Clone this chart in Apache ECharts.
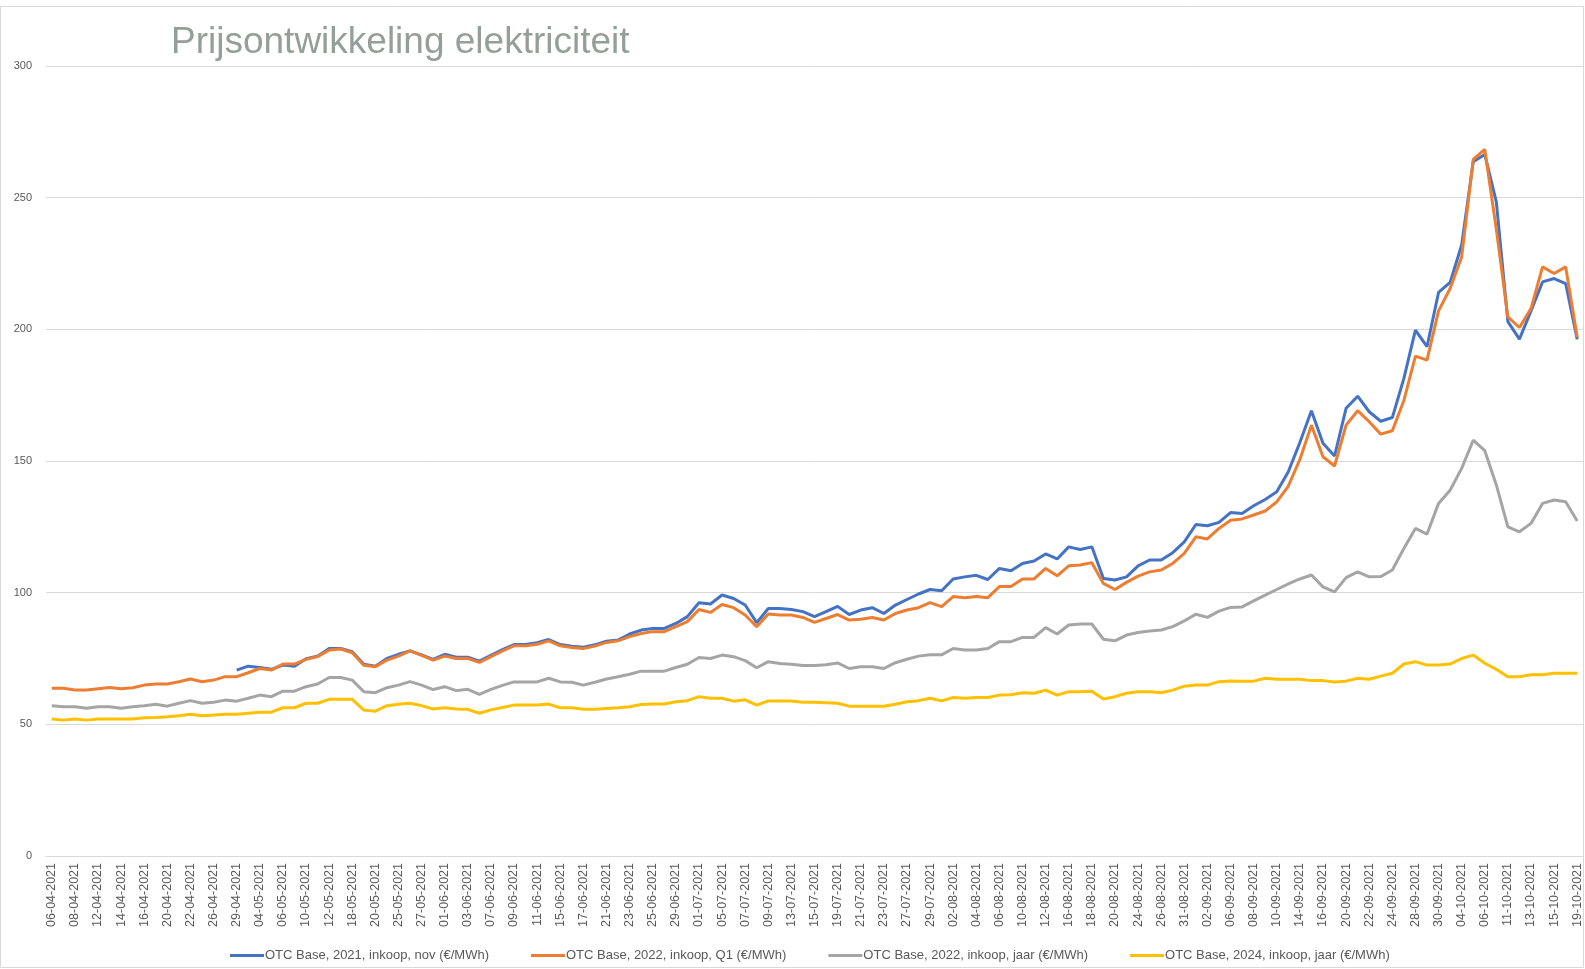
<!DOCTYPE html>
<html>
<head>
<meta charset="utf-8">
<script src="https://cdn.jsdelivr.net/npm/echarts@6/dist/echarts.min.js"></script>
<style>
  html, body { margin: 0; padding: 0; background: #fff; }
  #main { width: 1585px; height: 969px; }
</style>
</head>
<body>
<div id="main"></div>
<script>
// handelsdagen (dd-mm), jaar 2021
const days = [
  '06-04','07-04','08-04','09-04','12-04','13-04','14-04','15-04','16-04','19-04',
  '20-04','21-04','22-04','23-04','26-04','28-04','29-04','30-04','04-05','05-05',
  '06-05','07-05','10-05','11-05','12-05','14-05','18-05','19-05','20-05','21-05',
  '25-05','26-05','27-05','28-05','01-06','02-06','03-06','04-06','07-06','08-06',
  '09-06','10-06','11-06','14-06','15-06','16-06','17-06','18-06','21-06','22-06',
  '23-06','24-06','25-06','28-06','29-06','30-06','01-07','02-07','05-07','06-07',
  '07-07','08-07','09-07','12-07','13-07','14-07','15-07','16-07','19-07','20-07',
  '21-07','22-07','23-07','26-07','27-07','28-07','29-07','30-07','02-08','03-08',
  '04-08','05-08','06-08','09-08','10-08','11-08','12-08','13-08','16-08','17-08',
  '18-08','19-08','20-08','23-08','24-08','25-08','26-08','27-08','31-08','01-09',
  '02-09','03-09','06-09','07-09','08-09','09-09','10-09','13-09','14-09','15-09',
  '16-09','17-09','20-09','21-09','22-09','23-09','24-09','27-09','28-09','29-09',
  '30-09','01-10','04-10','05-10','06-10','07-10','11-10','12-10','13-10','14-10',
  '15-10','18-10','19-10'
]
const dates = days.map(d => d + '-2021')

const seriesNames = [
  'OTC Base, 2021, inkoop, nov (€/MWh)',
  'OTC Base, 2022, inkoop, Q1 (€/MWh)',
  'OTC Base, 2022, inkoop, jaar (€/MWh)',
  'OTC Base, 2024, inkoop, jaar (€/MWh)'
]

const nov2021 = [
  null,null,null,null,null,null,null,null,null,null,
  null,null,null,null,null,null,70.6,72.1,71.6,70.9,
  72.5,72.1,74.9,75.9,78.8,78.8,77.6,72.8,72.1,75,
  76.6,77.9,76.4,74.7,76.6,75.5,75.5,74,76.2,78.4,
  80.3,80.3,81,82.2,80.3,79.7,79.3,80.2,81.6,82,
  84.3,85.8,86.4,86.4,88.3,90.9,96.2,95.7,99.1,97.8,
  95.3,88.6,94,94,93.6,92.8,90.9,92.8,94.8,91.7,
  93.4,94.3,92.1,95.3,97.4,99.5,101.2,100.7,105.2,106,
  106.6,105,109.2,108.3,111.1,112,114.7,112.8,117.4,116.4,
  117.4,105.4,104.8,106,110.2,112.4,112.4,115.2,119.3,125.9,
  125.4,126.7,130.4,130.1,133,135.4,138.3,145.9,157,169.1,
  156.7,151.9,170,174.6,168.7,165.1,166.5,181.4,199.7,193.4,
  214,217.8,232,263.6,266.4,248.4,202.9,196.3,207,218,
  219.3,217.4,196.2
]

const q1_2022 = [
  63.7,63.7,63,63,63.5,64,63.5,63.9,64.9,65.3,
  65.3,66.2,67.2,66.2,66.8,68.1,68.1,69.6,71.2,70.6,
  72.9,72.9,74.7,75.7,78.2,78.6,77.2,72.4,71.9,74.4,
  75.9,77.9,76.2,74.4,75.9,75,75,73.5,75.7,77.9,
  79.8,79.8,80.4,81.7,79.8,79.2,78.8,79.7,81.1,81.7,
  83.3,84.5,85.2,85.2,87.1,89,93.6,92.5,95.5,94.3,
  91.5,87.1,91.9,91.5,91.5,90.6,88.7,90.2,91.7,89.6,
  89.9,90.6,89.6,92.1,93.4,94.3,96.2,94.7,98.5,98.1,
  98.5,98.1,102.3,102.3,105.2,105.2,109.2,106.4,110.2,110.5,
  111.4,103.5,101.2,103.9,106.3,107.9,108.6,111.1,114.9,121.2,
  120.4,124.4,127.5,128,129.5,131,134.5,140.5,150.6,163.6,
  151.6,148.1,163.6,169.1,164.9,160.2,161.5,173,189.8,188.3,
  207,215.5,227.5,264.5,268.3,238,204.7,200.7,207.9,223.7,
  221.2,223.7,197
]

const jaar2022 = [
  57.1,56.7,56.7,56.1,56.7,56.7,56.1,56.7,57.1,57.6,
  56.9,58,59,58,58.4,59.2,58.8,59.9,61.1,60.5,
  62.6,62.6,64.3,65.3,67.8,67.8,66.8,62.4,62,63.9,
  64.9,66.2,64.9,63.2,64.3,62.8,63.3,61.4,63.3,64.8,
  66.1,66.1,66.1,67.5,66.1,66,64.9,66,67.2,68.1,
  69,70.2,70.2,70.2,71.6,72.8,75.4,75,76.3,75.7,
  74.2,71.5,73.8,73.1,72.8,72.3,72.3,72.6,73.3,71.2,
  71.9,71.9,71.2,73.4,74.7,75.9,76.4,76.4,78.8,78.2,
  78.2,78.8,81.4,81.4,83,83,86.7,84.3,87.7,88.1,
  88.1,82.3,81.7,83.9,84.9,85.4,85.8,87.1,89.3,91.8,
  90.6,93,94.4,94.6,96.9,99.1,101.2,103.3,105.2,106.7,
  102.2,100.3,105.7,107.9,106,106.1,108.6,116.8,124.4,122.2,
  133.9,138.9,147.2,157.9,153.9,140.9,125,123.1,126.3,133.9,
  135.2,134.5,127.2
]

const jaar2024 = [
  52,51.6,52,51.6,52,52,52,52,52.5,52.6,
  52.9,53.3,53.8,53.3,53.5,53.8,53.8,54.2,54.6,54.6,
  56.3,56.3,58,58,59.5,59.5,59.5,55.4,55,57.1,
  57.6,58,57.1,55.8,56.3,55.8,55.7,54.2,55.5,56.4,
  57.3,57.3,57.3,57.7,56.3,56.3,55.7,55.7,56,56.3,
  56.7,57.5,57.7,57.7,58.6,59,60.5,59.9,59.9,58.8,
  59.3,57.3,58.9,58.9,58.9,58.4,58.4,58.2,58,56.9,
  56.9,56.9,56.9,57.6,58.6,59,59.9,58.9,60.2,59.9,
  60.2,60.2,61.1,61.2,62,61.8,63,61.1,62.4,62.4,
  62.6,59.6,60.5,61.8,62.4,62.4,62,63,64.5,64.9,
  64.9,66.2,66.5,66.4,66.4,67.5,67.1,67.1,67.1,66.6,
  66.6,66.1,66.4,67.5,67.1,68.3,69.4,72.9,73.8,72.5,
  72.5,72.9,75,76.3,73.2,70.9,68.1,68.1,68.8,68.8,
  69.4,69.4,69.4
]

const colors = ['#4472C4', '#ED7D31', '#A5A5A5', '#FFC000']
const values = [nov2021, q1_2022, jaar2022, jaar2024]

let myChart = echarts.init(document.getElementById('main'))
let option = {
  color: colors,
  animation: false,
  title: {
    text: 'Prijsontwikkeling elektriciteit',
    left: 166,
    top: 19,
    textStyle: {
      fontFamily: 'Liberation Sans',
      fontSize: 37,
      fontWeight: 'normal',
      color: '#939F98'
    }
  },
  graphic: [{
    type: 'rect',
    shape: { x: 0.5, y: 6.5, width: 1583, height: 961 },
    style: { fill: 'none', stroke: '#D9D9D9', lineWidth: 1 },
    silent: true
  }],
  legend: {
    bottom: 2,
    left: 225,
    itemWidth: 34,
    itemHeight: 10,
    itemGap: 42,
    icon: 'path://M0,3.5 L34,3.5 L34,6.5 L0,6.5 Z',
    data: seriesNames,
    textStyle: {
      fontFamily: 'Liberation Sans',
      fontSize: 13,
      color: '#595959',
      padding: [0, 0, 0, -4]
    }
  },
  grid: {
    left: 46,
    right: 2,
    top: 66,
    bottom: 113,
    containLabel: false
  },
  xAxis: {
    type: 'category',
    data: dates,
    boundaryGap: true,
    axisLine: { lineStyle: { color: '#D9D9D9' } },
    axisTick: { show: false },
    axisLabel: {
      interval: 1,
      rotate: 90,
      margin: 7,
      fontFamily: 'Liberation Sans',
      fontSize: 12.5,
      color: '#595959'
    }
  },
  yAxis: {
    type: 'value',
    min: 0,
    max: 300,
    interval: 50,
    axisLine: { show: false },
    axisTick: { show: false },
    splitLine: { lineStyle: { color: '#D9D9D9', width: 1 } },
    axisLabel: {
      margin: 14,
      fontFamily: 'Liberation Sans',
      fontSize: 11,
      color: '#595959'
    }
  },
  series: seriesNames.map((name, i) => ({
    name: name,
    type: 'line',
    data: values[i],
    symbol: 'none',
    connectNulls: false,
    lineStyle: { width: 3, color: colors[i] },
    itemStyle: { color: colors[i] }
  }))
}
myChart.setOption(option)
</script>
</body>
</html>
